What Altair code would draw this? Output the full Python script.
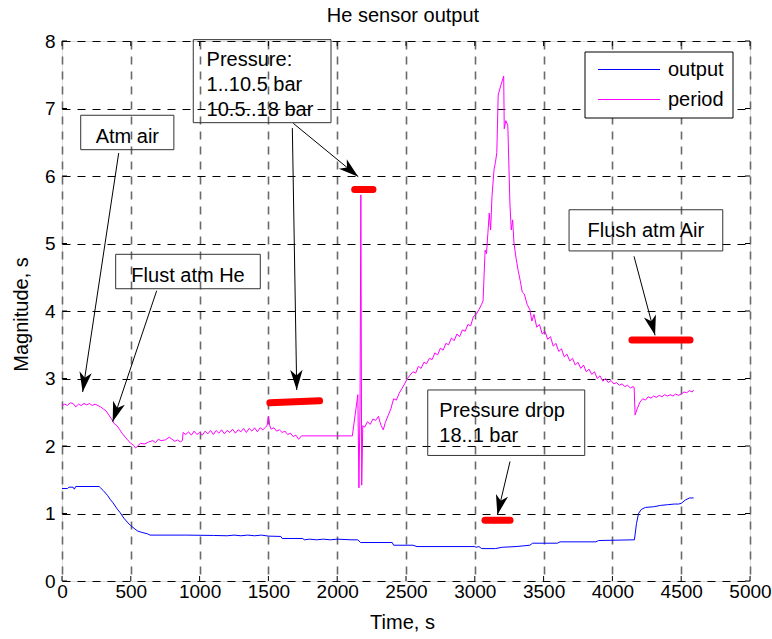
import math
import altair as alt
import pandas as pd

# ---------------- data ----------------
period_t = [0, 20, 40, 60, 80, 100, 120, 140, 160, 180, 200, 220, 240, 260, 280, 300, 320, 340, 360, 380,
            400, 420, 440, 460, 480, 500, 520, 535, 550, 570, 600, 630, 660, 680, 700, 720, 750, 780, 800, 820,
            840, 860, 875, 880, 900, 920, 940, 960, 980, 1000, 1020, 1040, 1060, 1080, 1100, 1120, 1140, 1160,
            1180, 1200, 1220, 1240, 1260, 1280, 1300, 1320, 1340, 1360, 1380, 1400, 1420, 1440, 1460, 1480,
            1490, 1500, 1510, 1520, 1540, 1560, 1580, 1600, 1620, 1640, 1660, 1680, 1700, 1720, 1740, 2110,
            2150, 2158, 2166, 2172, 2178, 2186, 2200, 2220, 2240, 2260, 2280, 2300, 2310, 2320, 2335, 2350,
            2370, 2390, 2410, 2430, 2450, 2470, 2490, 2510, 2530, 2550, 2570, 2590, 2610, 2630, 2650, 2670,
            2690, 2710, 2730, 2750, 2770, 2790, 2810, 2830, 2850, 2870, 2890, 2910, 2930, 2950, 2970, 2990,
            3010, 3030, 3050, 3060, 3075, 3085, 3095, 3105, 3115, 3125, 3140, 3150, 3160, 3170, 3190, 3210,
            3214, 3225, 3240, 3255, 3265, 3275, 3285, 3300, 3315, 3330, 3345, 3360, 3380, 3400, 3415, 3430,
            3450, 3470, 3490, 3510, 3530, 3550, 3570, 3590, 3610, 3630, 3650, 3670, 3690, 3710, 3730, 3750,
            3770, 3790, 3810, 3830, 3850, 3870, 3890, 3910, 3930, 3950, 3970, 3990, 4010, 4030, 4050, 4070,
            4090, 4110, 4130, 4150, 4158, 4165, 4180, 4200, 4220, 4240, 4260, 4280, 4300, 4320, 4340, 4360,
            4380, 4400, 4420, 4440, 4460, 4480, 4500, 4520, 4540, 4560, 4580, 4590]
period_v = [2.60, 2.62, 2.60, 2.64, 2.63, 2.58, 2.62, 2.60, 2.63, 2.61, 2.63, 2.60, 2.62, 2.60, 2.58, 2.55,
            2.52, 2.46, 2.40, 2.33, 2.30, 2.24, 2.18, 2.13, 2.08, 2.04, 2.01, 1.97, 2.00, 2.04, 2.03, 2.06,
            2.08, 2.05, 2.10, 2.08, 2.09, 2.13, 2.10, 2.07, 2.09, 2.06, 2.08, 2.20, 2.17, 2.21, 2.16, 2.22,
            2.17, 2.20, 2.16, 2.22, 2.18, 2.23, 2.17, 2.23, 2.19, 2.24, 2.18, 2.23, 2.20, 2.25, 2.19, 2.24,
            2.21, 2.26, 2.20, 2.26, 2.22, 2.27, 2.21, 2.27, 2.24, 2.28, 2.30, 2.44, 2.30, 2.25, 2.27, 2.22,
            2.24, 2.20, 2.22, 2.17, 2.19, 2.14, 2.16, 2.10, 2.15, 2.15,
            2.76, 1.38, 2.60, 5.72, 1.42, 2.30, 2.28, 2.36, 2.32, 2.40, 2.38, 2.44, 2.36, 2.30, 2.24, 2.35,
            2.45, 2.55, 2.70, 2.68, 2.78, 2.85, 2.92, 3.00, 3.05, 3.10, 3.08, 3.18, 3.15, 3.24, 3.22, 3.30,
            3.28, 3.38, 3.35, 3.45, 3.42, 3.52, 3.50, 3.60, 3.56, 3.66, 3.62, 3.72, 3.70, 3.80, 3.78, 3.92,
            3.95, 4.02, 4.10, 4.15, 4.90, 4.85, 5.15, 5.45, 5.20, 5.70, 6.10, 6.20, 6.35, 7.20, 7.35, 7.48,
            6.70, 6.82, 6.75, 5.60, 5.20, 5.35, 5.00, 4.78, 4.60, 4.45, 4.28, 4.25, 4.10, 4.02, 3.85, 3.95,
            3.76, 3.80, 3.66, 3.70, 3.58, 3.62, 3.48, 3.52, 3.40, 3.44, 3.32, 3.36, 3.26, 3.30, 3.20, 3.24,
            3.15, 3.20, 3.10, 3.14, 3.06, 3.10, 3.00, 3.04, 2.96, 3.00, 2.94, 2.97, 2.92, 2.94, 2.90, 2.92,
            2.88, 2.90, 2.86, 2.88, 2.87, 2.46, 2.55, 2.65, 2.70, 2.68, 2.73, 2.71, 2.74, 2.72, 2.75, 2.73,
            2.76, 2.74, 2.76, 2.74, 2.77, 2.75, 2.77, 2.80, 2.79, 2.82, 2.80, 2.83]

output_t = [0, 40, 50, 80, 90, 100, 270, 280, 300, 330, 350, 370, 400, 420, 450, 480, 500, 530, 550, 580,
            620, 640, 900, 1100, 1200, 1250, 1300, 1350, 1400, 1450, 1500, 1590, 1600, 1750, 1760, 1800,
            1850, 1900, 1950, 2000, 2100, 2150, 2170, 2400, 2410, 2550, 2580, 3000, 3010, 3030, 3050, 3150,
            3200, 3300, 3400, 3420, 3600, 3620, 3880, 3900, 4160, 4175, 4190, 4210, 4240, 4300, 4350, 4400,
            4450, 4480, 4500, 4530, 4560, 4590]
output_v = [1.37, 1.37, 1.39, 1.39, 1.36, 1.40, 1.40, 1.38, 1.34, 1.27, 1.21, 1.16, 1.07, 1.02, 0.93, 0.86,
            0.82, 0.77, 0.74, 0.72, 0.70, 0.68, 0.68, 0.675, 0.67, 0.68, 0.67, 0.68, 0.67, 0.68, 0.665, 0.66,
            0.63, 0.63, 0.61, 0.62, 0.61, 0.62, 0.61, 0.62, 0.61, 0.61, 0.57, 0.57, 0.53, 0.53, 0.51, 0.51,
            0.50, 0.51, 0.48, 0.48, 0.50, 0.51, 0.53, 0.56, 0.56, 0.58, 0.58, 0.60, 0.61, 0.85, 1.00, 1.06,
            1.09, 1.10, 1.12, 1.13, 1.14, 1.14, 1.15, 1.20, 1.23, 1.23]

series_names = ["output", "period"]
series_colors = ["#0000FF", "#FF00FF"]

x_ticks = [0, 500, 1000, 1500, 2000, 2500, 3000, 3500, 4000, 4500, 5000]
y_ticks = [0, 1, 2, 3, 4, 5, 6, 7, 8]

# red markers
marker_t1 = [1511, 2127, 3074, 4142]
marker_t2 = [1872, 2260, 3256, 4564]
marker_v1 = [2.64, 5.80, 0.90, 3.57]
marker_v2 = [2.67, 5.80, 0.90, 3.57]

# annotation boxes
box_t1 = [136, 390, 954, 3685, 2658]
box_t2 = [813, 1441, 1955, 4802, 3799]
box_v1 = [6.90, 4.84, 8.02, 5.50, 2.83]
box_v2 = [6.39, 4.33, 6.79, 4.89, 1.86]

# annotation text lines
text_lines = ["Atm air", "Flust atm He", "Pressure:", "1..10.5 bar", "10.5..18 bar",
              "Flush atm Air", "Pressure drop", "18..1 bar"]
text_t = [475, 916, 1051, 1051, 1051, 4243, 2742, 2742]
text_v = [6.49, 4.43, 7.63, 7.26, 6.89, 5.09, 2.43, 2.06]
text_align = ["center", "center", "left", "left", "left", "center", "left", "left"]

# arrows: start -> tip
arrow_t1 = [412, 688, 1681, 1674, 4157, 3256]
arrow_v1 = [6.34, 4.30, 6.78, 6.71, 4.81, 1.77]
arrow_t2 = [150, 368, 2153, 1706, 4310, 3164]
arrow_v2 = [2.80, 2.36, 5.99, 2.83, 3.64, 0.98]

# ---------------- chart ----------------
W, H = 688, 540
FONT = "Liberation Sans"
xs = alt.Scale(domain=[0, 5000], nice=False, zero=False)
ys = alt.Scale(domain=[0, 8], nice=False, zero=False)

x_axis = alt.Axis(values=x_ticks, title="Time, s", grid=True, gridDash=[8, 7], gridColor="#6a6a6a",
                  gridWidth=1.6, domain=False, ticks=True, tickSize=0, labelPadding=16,
                  labelBaseline="alphabetic", labelFontSize=19, labelFont=FONT, labelColor="black",
                  labelFlush=False, labelOverlap=False, format="d",
                  titleFont=FONT, titleFontSize=20, titleFontWeight="normal", titleColor="black",
                  titleX=340, titleY=47, titleBaseline="alphabetic", titleAlign="center")
y_axis = alt.Axis(values=y_ticks, title="Magnitude, s", grid=True, gridDash=[8, 7], gridColor="black",
                  gridWidth=1, domain=False, ticks=True, tickSize=0, labelPadding=7,
                  labelFontSize=19, labelFont=FONT, labelColor="black", labelFlush=False,
                  labelOverlap=False, format="d",
                  titleFont=FONT, titleFontSize=20, titleFontWeight="normal", titleColor="black",
                  titleX=-35, titleY=273, titleAngle=270, titleBaseline="alphabetic", titleAlign="center")


def X(field):
    return alt.X(field, scale=xs, axis=x_axis)


def Y(field):
    return alt.Y(field, scale=ys, axis=y_axis)


out_df = pd.DataFrame({"t": output_t, "v": output_v})
per_df = pd.DataFrame({"t": period_t, "v": period_v})

line_out = alt.Chart(out_df).mark_line(color=series_colors[0], strokeWidth=1).encode(
    x=X("t:Q"), y=Y("v:Q"))
line_per = alt.Chart(per_df).mark_line(color=series_colors[1], strokeWidth=1).encode(
    x=X("t:Q"), y=Y("v:Q"))

# inward ticks on all four sides
xt_df = pd.DataFrame({"t": x_ticks})
yt_df = pd.DataFrame({"v": y_ticks})
TL = 5
ticks_bottom = alt.Chart(xt_df).mark_rule(color="black", strokeWidth=1).encode(
    x=X("t:Q"), y=alt.value(H), y2=alt.value(H - TL))
ticks_top = alt.Chart(xt_df).mark_rule(color="black", strokeWidth=1).encode(
    x=X("t:Q"), y=alt.value(0), y2=alt.value(TL))
ticks_left = alt.Chart(yt_df).mark_rule(color="black", strokeWidth=1).encode(
    y=Y("v:Q"), x=alt.value(0), x2=alt.value(TL))
ticks_right = alt.Chart(yt_df).mark_rule(color="black", strokeWidth=1).encode(
    y=Y("v:Q"), x=alt.value(W), x2=alt.value(W - TL))

mk_df = pd.DataFrame({"t1": marker_t1, "t2": marker_t2, "v1": marker_v1, "v2": marker_v2})
markers = alt.Chart(mk_df).mark_rule(color="#FF0000", strokeWidth=7, strokeCap="round").encode(
    x=X("t1:Q"), x2="t2:Q", y=Y("v1:Q"), y2="v2:Q")

bx_df = pd.DataFrame({"t1": box_t1, "t2": box_t2, "v1": box_v1, "v2": box_v2})
boxes = alt.Chart(bx_df).mark_rect(fillOpacity=0, stroke="#333333", strokeWidth=1).encode(
    x=X("t1:Q"), x2="t2:Q", y=Y("v1:Q"), y2="v2:Q")

ar_df = pd.DataFrame({"t1": arrow_t1, "t2": arrow_t2, "v1": arrow_v1, "v2": arrow_v2})
px_x = W / 5000.0
px_y = H / 8.0
ar_df["ang"] = [
    (math.degrees(math.atan2((b - a) * px_x, (d - c) * px_y)) + 360) % 360
    for a, b, c, d in zip(arrow_t1, arrow_t2, arrow_v1, arrow_v2)
]
arrow_lines = alt.Chart(ar_df).mark_rule(color="black", strokeWidth=1).encode(
    x=X("t1:Q"), x2="t2:Q", y=Y("v1:Q"), y2="v2:Q")
HEAD = "M0,0 L-0.62,2 L0,1.45 L0.62,2 Z"
arrow_heads = alt.Chart(ar_df).mark_point(shape=HEAD, filled=True, color="black", opacity=1,
                                          size=400, strokeWidth=0).encode(
    x=X("t2:Q"), y=Y("v2:Q"), angle=alt.Angle("ang:Q", scale=None))

tx_df = pd.DataFrame({"txt": text_lines, "t": text_t, "v": text_v, "al": text_align})
texts_c = alt.Chart(tx_df).transform_filter(alt.datum.al == "center").mark_text(
    font=FONT, fontSize=20, color="black", align="center", baseline="alphabetic").encode(
    x=X("t:Q"), y=Y("v:Q"), text="txt:N")
texts_l = alt.Chart(tx_df).transform_filter(alt.datum.al == "left").mark_text(
    font=FONT, fontSize=20, color="black", align="left", baseline="alphabetic").encode(
    x=X("t:Q"), y=Y("v:Q"), text="txt:N")

# legend (drawn inside the plot, top right)
one = pd.DataFrame({"k": [0]})
leg_box = alt.Chart(one).mark_rect(fill="white", stroke="black", strokeWidth=1).encode(
    x=alt.value(523), x2=alt.value(671), y=alt.value(11), y2=alt.value(77))
leg_layers = [leg_box]
for i, (name, col) in enumerate(zip(series_names, series_colors)):
    ly = 28.5 + 30 * i
    d = pd.DataFrame({"name": [name]})
    leg_layers.append(alt.Chart(d).mark_rule(color=col, strokeWidth=1).encode(
        x=alt.value(536), x2=alt.value(598), y=alt.value(ly)))
    leg_layers.append(alt.Chart(d).mark_text(font=FONT, fontSize=20, color="black", align="left",
                                             baseline="alphabetic").encode(
        x=alt.value(606), y=alt.value(ly + 6.5), text="name:N"))

chart = alt.layer(
    line_out, line_per, ticks_bottom, ticks_top, ticks_left, ticks_right,
    markers, boxes, arrow_lines, arrow_heads, texts_c, texts_l, *leg_layers
).properties(
    width=W, height=H,
    title=alt.TitleParams("He sensor output", font=FONT, fontSize=20, fontWeight="normal",
                          color="black", anchor="middle", frame="group", offset=6, dx=-3),
    autosize=alt.AutoSizeParams(type="none"),
    padding={"left": 62, "top": 41, "right": 22, "bottom": 58},
).configure_view(stroke="black", strokeWidth=1).configure(background="white")

chart.save("out.html", embed_options={"renderer": "svg", "actions": False})
